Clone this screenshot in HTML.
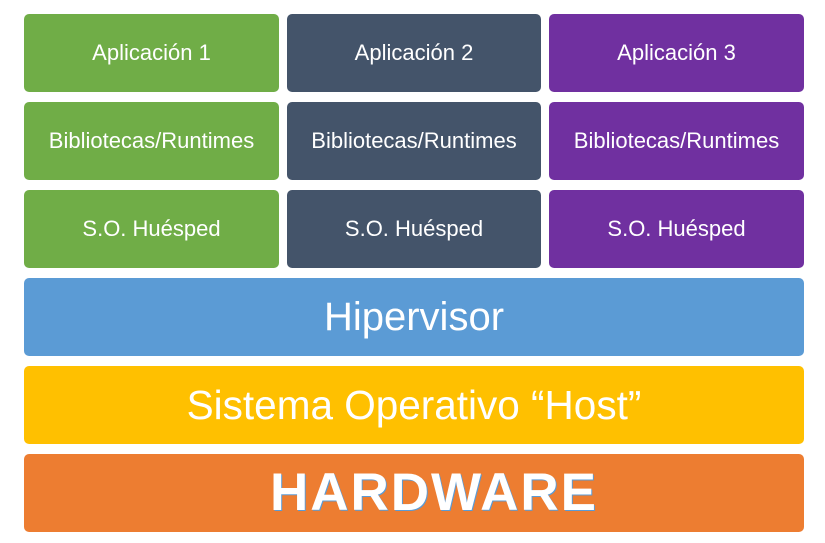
<!DOCTYPE html>
<html><head><meta charset="utf-8"><style>
body{margin:0;width:825px;height:543px;background:#fff;position:relative;overflow:hidden;font-family:"Liberation Sans",sans-serif}
.b{position:absolute;border-radius:5px;color:#fff;display:flex;align-items:center;justify-content:center;white-space:nowrap;box-sizing:border-box}
.s{font-size:22px}
.g{background:#70AD47}.d{background:#44546A}.p{background:#7030A0}
</style></head><body>
<div class="b s g" style="left:24px;top:14px;width:255px;height:78px">Aplicación 1</div>
<div class="b s d" style="left:287px;top:14px;width:254px;height:78px">Aplicación 2</div>
<div class="b s p" style="left:549px;top:14px;width:255px;height:78px">Aplicación 3</div>
<div class="b s g" style="left:24px;top:102px;width:255px;height:78px">Bibliotecas/Runtimes</div>
<div class="b s d" style="left:287px;top:102px;width:254px;height:78px">Bibliotecas/Runtimes</div>
<div class="b s p" style="left:549px;top:102px;width:255px;height:78px">Bibliotecas/Runtimes</div>
<div class="b s g" style="left:24px;top:190px;width:255px;height:78px">S.O. Huésped</div>
<div class="b s d" style="left:287px;top:190px;width:254px;height:78px">S.O. Huésped</div>
<div class="b s p" style="left:549px;top:190px;width:255px;height:78px">S.O. Huésped</div>
<div class="b" style="left:24px;top:278px;width:780px;height:78px;background:#5B9BD5;font-size:40px">Hipervisor</div>
<div class="b" style="left:24px;top:366px;width:780px;height:78px;background:#FFC000;font-size:40.5px">Sistema Operativo “Host”</div>
<div class="b" style="left:24px;top:454px;width:780px;height:78px;background:#ED7D31;font-size:53px;font-weight:bold;letter-spacing:2px;padding-left:40px;padding-bottom:2px;text-shadow:1px 1px 0 #5B9BD5">HARDWARE</div>
</body></html>
